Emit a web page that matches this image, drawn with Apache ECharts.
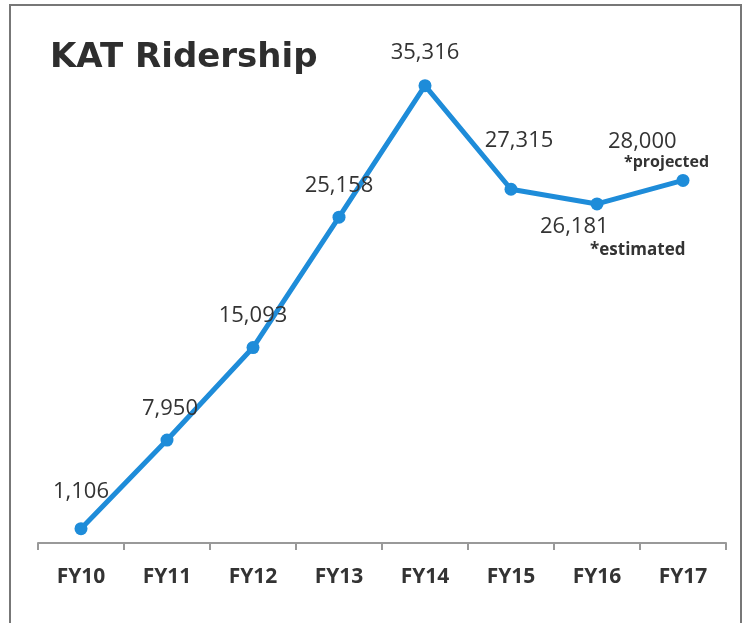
<!DOCTYPE html>
<html>
<head>
<meta charset="utf-8">
<script src="https://cdn.jsdelivr.net/npm/echarts@6/dist/echarts.min.js"></script>
<style>
  html, body { margin: 0; padding: 0; background: #fff; }
  #chart { width: 744px; height: 623px; }
</style>
</head>
<body>
<div id="chart"></div>
<script>
const years     = ["FY10", "FY11", "FY12", "FY13", "FY14", "FY15", "FY16", "FY17"];
const ridership = [1106, 7950, 15093, 25158, 35316, 27315, 26181, 28000];
const notes     = ["", "", "", "", "", "", "*estimated", "*projected"];

// label placement per point, mimicking the original
const labelPos = [
  { position: "top", offset: [0, -14] },
  { position: "top", offset: [3, -9] },
  { position: "top", offset: [0, -9] },
  { position: "top", offset: [0, -9] },
  { position: "top", offset: [0, -10] },
  { position: "top", offset: [8, -26] },
  { position: "bottom", align: "left", offset: [-57, 0] },
  { position: "top", align: "left", offset: [-75, 4] },
];
const notePad = [0, 0, 0, 0, 0, 0, 50, 16];

const chart = echarts.init(document.getElementById("chart"), null, { renderer: "canvas" });

chart.setOption({
  backgroundColor: "#fff",
  animation: false,
  title: {
    text: "KAT Ridership",
    left: 45,
    top: 36,
    textStyle: { color: "#2e2e2e", fontSize: 34, fontWeight: "bold", fontFamily: "DejaVu Sans" },
  },
  graphic: [{
    type: "rect",
    shape: { x: 10, y: 5, width: 731, height: 640 },
    style: { fill: null, stroke: "#777", lineWidth: 2 },
    silent: true,
  }],
  grid: { left: 38, right: 18, top: 25, bottom: 80 },
  xAxis: {
    type: "category",
    data: years,
    boundaryGap: true,
    axisLine: { lineStyle: { color: "#999", width: 2 } },
    axisTick: { show: true, length: 7, lineStyle: { color: "#999", width: 2 } },
    axisLabel: { color: "#333", fontSize: 21, fontWeight: "bold", fontFamily: "Open Sans", margin: 24 },
  },
  yAxis: {
    type: "value",
    min: 0,
    max: 40000,
    show: false,
    splitLine: { show: false },
  },
  series: [{
    type: "line",
    data: ridership.map((v, i) => ({
      value: v,
      label: labelPos[i],
    })),
    symbol: "circle",
    symbolSize: 13,
    lineStyle: { color: "#1e8cd9", width: 5 },
    itemStyle: { color: "#1e8cd9" },
    label: {
      show: true,
      color: "#333",
      fontSize: 22,
      fontFamily: "Open Sans",
      align: "center",
      formatter: (p) => {
        const s = p.value.toLocaleString("en-US");
        const n = notes[p.dataIndex];
        return n ? `{v|${s}}\n{n${p.dataIndex}|${n}}` : `{v|${s}}`;
      },
      rich: {
        v: { fontSize: 22, color: "#333", fontFamily: "Open Sans", lineHeight: 22 },
        n6: { fontSize: 17, color: "#333", fontWeight: "bold", fontFamily: "Open Sans", lineHeight: 26, padding: [0, 0, 0, notePad[6]] },
        n7: { fontSize: 16, color: "#333", fontWeight: "bold", fontFamily: "Open Sans", lineHeight: 20, padding: [0, 0, 0, notePad[7]] },
      },
    },
  }],
});
</script>
</body>
</html>
